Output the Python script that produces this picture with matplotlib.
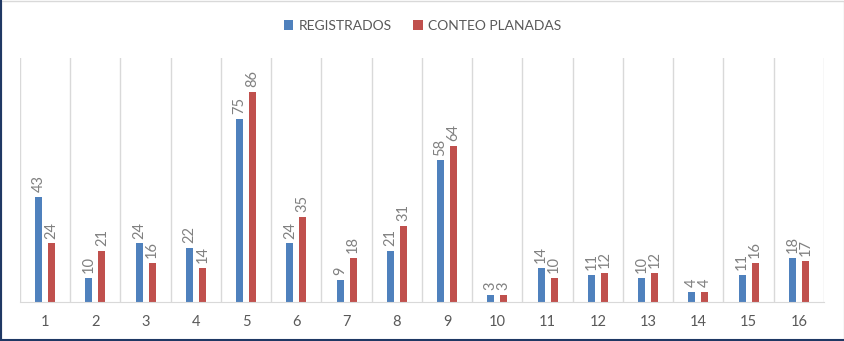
import numpy as np
from matplotlib import pyplot as plt
from matplotlib.patches import Rectangle

plt.rcParams['font.family'] = ['Lato', 'DejaVu Sans']

categories = [str(i) for i in range(1, 17)]
registrados = [43, 10, 24, 22, 75, 24, 9, 21, 58, 3, 14, 11, 10, 4, 11, 18]
conteo = [24, 21, 16, 14, 86, 35, 18, 31, 64, 3, 10, 12, 12, 4, 16, 17]

blue = "#4F81BD"
red = "#C0504D"
text_gray = "#595959"

fig = plt.figure(figsize=(8.45, 3.41), dpi=100)
ax = fig.add_axes([20 / 845, 39 / 341, 804 / 845, 244 / 341])

x = np.arange(len(categories))
w = 0.14
off = 0.13
b1 = ax.bar(x - off, registrados, w, color=blue, label="REGISTRADOS")
b2 = ax.bar(x + off, conteo, w, color=red, label="CONTEO PLANADAS")

for bars, vals in ((b1, registrados), (b2, conteo)):
    for rect, v in zip(bars, vals):
        ax.text(rect.get_x() + rect.get_width() / 2, v + 2, str(v),
                rotation=90, ha="center", va="bottom",
                fontsize=10.5, color="#808080")

ax.set_xlim(-0.5, len(categories) - 0.5)
ax.set_ylim(0, 100)
ax.set_xticks(x)
ax.set_xticklabels(categories, fontsize=10.5, color=text_gray)
ax.set_yticks([])
ax.tick_params(axis="x", length=0, pad=9)
for b in np.arange(-0.5, len(categories) + 0.5, 1):
    ax.axvline(b, color="#D9D9D9", lw=1, zorder=0)
for s in ["top", "left", "right"]:
    ax.spines[s].set_visible(False)
ax.spines["bottom"].set_color("#D9D9D9")

fig.legend(loc="center", bbox_to_anchor=(0.5, 1 - 26 / 341), ncol=2,
           frameon=False, fontsize=10, labelcolor=text_gray,
           handlelength=0.7, handleheight=0.7, columnspacing=1.5,
           handletextpad=0.4)

# outer chart border: light gray all round, dark on left and bottom
fig.add_artist(Rectangle((0.5 / 845, 0.5 / 341), 843.5 / 845, 340 / 341,
                         transform=fig.transFigure, fill=False,
                         edgecolor="#D9D9D9", lw=1))
fig.add_artist(plt.Line2D([1 / 845, 1 / 845], [0, 1],
                          transform=fig.transFigure, color="#1F3864", lw=1.5))
fig.add_artist(plt.Line2D([0, 1], [1.2 / 341, 1.2 / 341],
                          transform=fig.transFigure, color="#1F3864", lw=1.5))

fig.savefig("out.png", dpi=100)
